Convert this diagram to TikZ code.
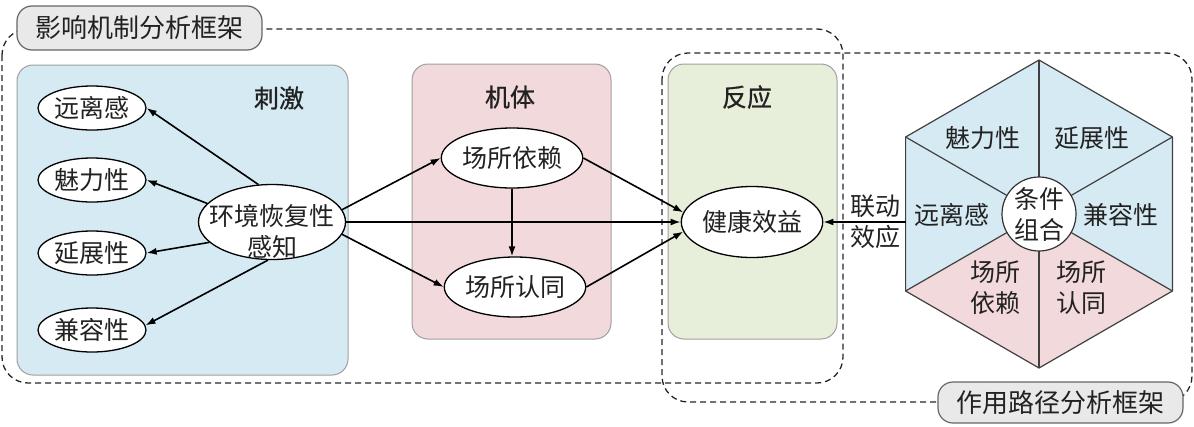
\documentclass[tikz,border=0pt]{standalone}
\usepackage{fontspec}
\setmainfont{Noto Sans CJK SC}
\newfontfamily\headfont[FakeBold=0.8]{Noto Sans CJK SC}
\usetikzlibrary{shapes.geometric,arrows.meta}
\definecolor{bluebg}{HTML}{D6EAF3}
\definecolor{pinkbg}{HTML}{F2D9DB}
\definecolor{greenbg}{HTML}{E7EFDA}
\definecolor{graybg}{HTML}{E9E9E9}
\definecolor{txt}{HTML}{222222}
\begin{document}
\begin{tikzpicture}[x=1pt,y=-1pt,
  every node/.style={text=txt, font=\fontsize{25}{31}\selectfont},
  heading/.style={font=\fontsize{25}{31}\selectfont\headfont},
  oval/.style={ellipse, draw=black, line width=1.3pt, fill=white, inner sep=0pt},
  panel/.style={draw=gray!75, line width=1pt, rounded corners=16pt},
  frame/.style={draw=black!85, line width=1.3pt, dash pattern=on 6pt off 4pt, rounded corners=26pt},
  tag/.style={draw=gray!80!black, line width=1.2pt, fill=graybg, rounded corners=15pt, minimum width=245pt, inner sep=0pt, font=\fontsize{26}{31}\selectfont},
  arr/.style={-{Latex[length=10pt,width=7pt]}, line width=1.6pt, draw=black},
  hexline/.style={draw=black!75, line width=1.2pt}]
\useasboundingbox (0,0) rectangle (1194,426);

% dashed frames
\path[frame] (2,29) rectangle (843,383);
\path[frame] (662,53) rectangle (1192,402);

% panels
\path[panel, fill=bluebg] (17,65) rectangle (348,375);
\path[panel, fill=pinkbg] (412,64) rectangle (611,339);
\path[panel, fill=greenbg] (668,64) rectangle (837,339);

\node[heading] (tstim) at (279,98) {刺激};
\node[heading] (torg) at (510,97) {机体};
\node[heading] (tresp) at (747,97) {反应};

% stimulus ellipses
\node[oval, minimum width=108pt, minimum height=44pt] (yuan) at (92,108) {远离感};
\node[oval, minimum width=108pt, minimum height=44pt] (mei) at (92,180) {魅力性};
\node[oval, minimum width=108pt, minimum height=44pt] (yan) at (92,253) {延展性};
\node[oval, minimum width=108pt, minimum height=44pt] (jian) at (92,330) {兼容性};
\node[oval, minimum width=147pt, minimum height=75pt] (env) at (272,222) {};
\node[align=center] (envt) at (272,231) {环境恢复性\\感知};

% organism
\node[oval, minimum width=140pt, minimum height=60pt] (ylai) at (512,158) {场所依赖};
\node[oval, minimum width=140pt, minimum height=60pt] (rtong) at (515,287) {场所认同};

% response
\node[oval, minimum width=138pt, minimum height=71pt] (health) at (752,222) {健康效益};

% arrows
\draw[arr] (env.110) -- (yuan.east);
\draw[arr] (env.164) -- (mei.east);
\draw[arr] (env.198) -- (yan.east);
\draw[arr] (env.264) -- (jian.5);
\draw[arr] (env.10) -- (ylai.west);
\draw[arr] (env.east) -- (health.west);
\draw[arr] (env.-10) -- (rtong.west);
\draw[arr] (ylai.south) -- (ylai.south |- rtong.north);
\draw[arr] (ylai.east) -- (health.172);
\draw[arr] (rtong.east) -- (health.188);

% hexagon
\coordinate (hc) at (1039,214);
\coordinate (T) at (1039,60);
\coordinate (UR) at (1172.4,137);
\coordinate (LR) at (1172.4,291);
\coordinate (B) at (1039,368);
\coordinate (LL) at (905.6,291);
\coordinate (UL) at (905.6,137);
\fill[bluebg] (hc) -- (T) -- (UR) -- cycle;
\fill[bluebg] (hc) -- (UR) -- (LR) -- cycle;
\fill[pinkbg] (hc) -- (LR) -- (B) -- cycle;
\fill[pinkbg] (hc) -- (B) -- (LL) -- cycle;
\fill[bluebg] (hc) -- (LL) -- (UL) -- cycle;
\fill[bluebg] (hc) -- (UL) -- (T) -- cycle;
\foreach \v in {T,UR,LR,B,LL,UL} \draw[hexline] (hc) -- (\v);
\draw[hexline, line join=round] (T) -- (UR) -- (LR) -- (B) -- (LL) -- (UL) -- cycle;
\node[circle, draw=black!80, line width=1.2pt, fill=white, minimum size=74pt, inner sep=0pt, align=center] (cond) at (hc) {条件\\组合};

\node (hmei) at (983,138) {魅力性};
\node (hyan) at (1092,138) {延展性};
\node (hyuan) at (952,215) {远离感};
\node (hjian) at (1121,215) {兼容性};
\node[align=center] (hylai) at (995,288) {场所\\依赖};
\node[align=center] (hrtong) at (1081,288) {场所\\认同};

\coordinate (hexL) at (905.6,222);
\draw[arr] (hexL) -- (health.east);
\node[align=center] (link) at (875,222) {联动\\效应};

% tags
\node[tag, minimum height=44pt] (tagA) at (139.5,28) {影响机制分析框架};
\node[tag, minimum height=41pt] (tagB) at (1060.5,402.5) {作用路径分析框架};
\end{tikzpicture}
\end{document}
